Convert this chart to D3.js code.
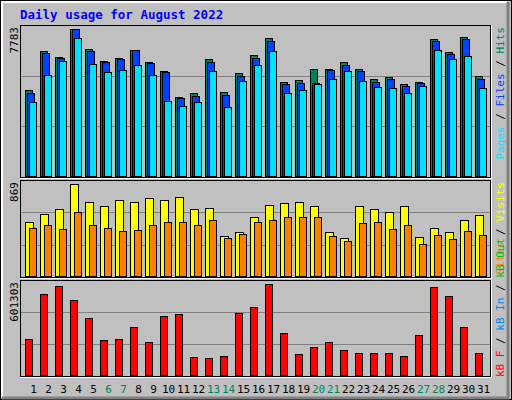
<!DOCTYPE html><html><head><meta charset="utf-8"><script src="https://cdn.jsdelivr.net/npm/d3@7"></script>
<style>body{margin:0;background:#fff}text{font-family:"DejaVu Sans Mono",monospace}</style></head><body><svg id="c" width="512" height="400"></svg>
<script>
const days=d3.range(1,32);
const weekend=[6,7,13,14,20,21,27,28];
const hits=[4575,6626,6311,7783,6731,6100,6258,6679,6048,5574,4207,4417,6206,4470,5469,6416,7310,4996,5101,5680,5680,6048,5680,5154,5259,4891,4996,7257,6574,7363,5312];
const files=[4417,6521,6258,7783,6626,6048,6206,6679,5995,5522,4155,4260,6048,4312,5312,6258,7152,4891,4943,4943,5627,5890,5574,4996,5154,4786,4943,7152,6469,7257,5154];
const pages=[3944,5364,6100,7310,5942,5522,5627,5890,5364,3997,3734,3944,5574,3681,5049,5890,6626,4418,4575,4891,5154,5574,5049,4733,4681,4418,4786,6679,6206,6363,4681];
const visits=[520,595,633,869,707,670,726,707,745,726,754,642,651,380,418,567,679,698,707,670,418,362,670,642,614,661,371,455,418,539,577];
const sites=[464,492,446,614,483,455,427,436,483,520,520,483,539,362,399,511,530,567,567,567,380,334,502,511,446,492,306,390,352,427,390];
const kbytes=[245784,535458,588126,495957,377454,239201,245784,318203,226034,390621,403788,127281,120698,133865,410372,449873,601303,278702,147032,193116,226034,173366,153615,153615,153615,133865,272118,581543,522291,318203,153615];
const svg=d3.select("#c");
svg.append("rect").attr("x",0).attr("y",0).attr("width",512).attr("height",400).attr("fill","#c0c0c0");
svg.append("rect").attr("x",0.5).attr("y",0.5).attr("width",511).attr("height",399).attr("fill","none").attr("stroke","#000");
svg.append("path").attr("d","M2,397V2H507").attr("stroke","#fff").attr("fill","none").attr("stroke-width",2);
svg.append("path").attr("d","M508,2V398H2").attr("stroke","#808080").attr("fill","none").attr("stroke-width",3);
svg.append("text").attr("x",20).attr("y",19).attr("fill","#0000ff").attr("font-weight","bold").attr("font-size",12.5).text("Daily usage for August 2022");
const x=d3.scaleBand().domain(days).range([25,490]).paddingInner(0).paddingOuter(0);
// x.step = 15
function panel(top,bottom,maxY,maxV,label){
  svg.append("rect").attr("x",20.5).attr("y",top+0.5).attr("width",470).attr("height",bottom-top).attr("fill","#c0c0c0").attr("stroke","#000");
  svg.append("path").attr("d",`M491.5,${top}V${bottom+1.5}H20`).attr("stroke","#fff").attr("fill","none");
  const h=bottom-top;
  [1/3,2/3].forEach(f=>svg.append("line").attr("x1",21).attr("x2",490).attr("y1",Math.round(top+h*f)+0.5).attr("y2",Math.round(top+h*f)+0.5).attr("stroke","#808080"));
  const y=d3.scaleLinear().domain([0,maxV]).range([bottom,maxY]);
  svg.append("text").attr("transform",`translate(18,${top+2}) rotate(-90)`).attr("text-anchor","end").attr("font-size",11).attr("fill","#000").text(label);
  return y;
}
function bars(data,y,dx,w,color){
  svg.append("g").selectAll("rect").data(data).join("rect")
   .attr("x",(d,i)=>x(days[i])+dx+0.5).attr("y",d=>Math.round(y(d))+0.5).attr("width",w)
   .attr("height",d=>y(0)-Math.round(y(d))-1).attr("fill",color).attr("stroke","#000");
}
const y1=panel(25,177,29,7783,"7783");
bars(hits,y1,0,7,"#00805c");bars(files,y1,2,7,"#0040ff");bars(pages,y1,4,7,"#00e0ff");
const y2=panel(180,277,184.3,869,"869");
bars(visits,y2,0,8,"#ffff00");bars(sites,y2,4,7,"#ff8000");
const y3=panel(280,376,284.3,601303,"601303");
bars(kbytes,y3,0,7,"#ff0000");
svg.append("g").selectAll("text").data(days).join("text").attr("x",d=>x(d)+8.5).attr("y",393).attr("text-anchor","middle").attr("font-size",11)
 .attr("fill",d=>weekend.includes(d)?"#00805c":"#000").text(d=>d);
function rlabel(yy,anchor,parts){
  const t=svg.append("text").attr("transform",`translate(504,${yy}) rotate(-90)`).attr("text-anchor",anchor).attr("font-size",11);
  parts.forEach(p=>t.append("tspan").attr("fill",p[1]).text(p[0]));
}
rlabel(27,"end",[["Pages","#00e0ff"],[" / ","#000"],["Files","#0040ff"],[" / ","#000"],["Hits","#00805c"]]);
rlabel(182,"end",[["Sites","#ff8000"],[" / ","#000"],["Visits","#ffff00"]]);
rlabel(377,"start",[["kB F","#ff0000"],[" / ","#000"],["kB In","#0080ff"],[" / ","#000"],["kB Out","#00c000"]]);
</script></body></html>
